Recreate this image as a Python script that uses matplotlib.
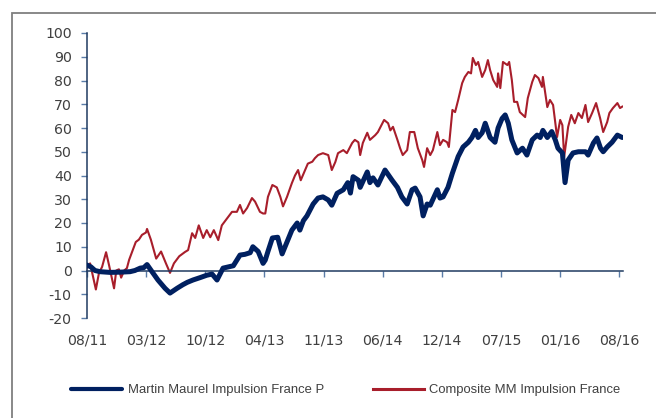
import matplotlib.pyplot as plt
from matplotlib.patches import Rectangle

# months since 08/2011
blue_t = [0.0, 0.45, 0.9, 1.47, 2.6, 3.7, 4.85, 5.4, 6.0, 6.4, 6.77, 7.33, 8.0, 8.8, 9.36,
          10.15, 10.8, 11.3, 11.95, 12.75, 13.5, 14.1, 14.66, 15.34, 16.5, 17.25, 17.8, 18.4,
          18.7, 19.3, 19.85, 20.1, 20.4, 20.9, 21.5, 22.0, 22.55, 23.1, 23.7, 24.0, 24.4, 24.8,
          25.5, 26.05, 26.6, 27.2, 27.6, 28.2, 28.9, 29.4, 29.7, 30.0, 30.6, 30.8, 31.6, 31.9,
          32.25, 32.8, 33.6, 34.4, 35.0, 35.5, 36.1, 36.65, 37.0, 37.55, 37.9, 38.35, 38.7,
          39.5, 39.8, 40.15, 40.7, 41.2, 41.85, 42.4, 43.0, 43.4, 43.8, 44.1, 44.55, 44.9,
          45.45, 46.0, 46.35, 46.8, 47.15, 47.5, 47.9, 48.5, 49.1, 49.6, 50.2, 50.75, 51.1,
          51.4, 51.9, 52.4, 52.8, 53.1, 53.6, 53.9, 54.25, 54.8, 55.4, 56.2, 56.5, 57.1, 57.5,
          57.9, 58.2, 58.65, 59.2, 59.8, 60.35]
blue_v = [2.3, 1.5, 0, -0.5, -0.8, -0.7, -0.5, 0, 1, 1.2, 2.5, -0.5, -4, -7.5, -9.5,
          -7.5, -6, -5, -4, -3, -2, -1.5, -4, 1, 2, 6.5, 6.8, 7.5,
          10, 8, 3, 4.4, 8, 13.7, 14, 7, 12, 17, 20, 17, 21, 23,
          28, 30.5, 31, 29.7, 27.5, 32.5, 34, 37, 32.6, 39.5, 38, 35, 41.5, 37,
          39, 36, 42.3, 38, 35, 31, 28, 34, 34.7, 31, 23, 28, 27.5,
          34, 30.5, 31, 35, 41, 48, 52, 54, 56, 59, 56, 58, 62,
          56, 54, 60, 64, 65.5, 62, 55, 49.5, 51.5, 48.6, 55, 57, 56,
          59, 56, 58.5, 55, 51.5, 49.5, 37, 46.5, 49.5, 50, 50, 48.6, 53.7, 55.8,
          51.5, 50, 52, 54, 57, 56]

red_t = [0.0, 0.35, 0.7, 1.0, 1.35, 1.7, 2.15, 2.5, 3.05, 3.3, 3.6, 3.85, 4.2, 4.5, 4.75,
         5.1, 5.5, 5.85, 6.2, 6.65, 6.77, 7.2, 7.8, 8.35, 8.9, 9.36, 9.8, 10.4, 11.05, 11.4,
         11.85, 12.2, 12.6, 13.1, 13.5, 13.9, 14.3, 14.8, 15.2, 15.8, 16.35, 16.9, 17.25,
         17.6, 18.05, 18.6, 18.95, 19.5, 19.85, 20.1, 20.4, 20.9, 21.4, 21.8, 22.1, 22.55,
         23.1, 23.45, 23.8, 24.1, 24.5, 24.9, 25.4, 25.7, 26.05, 26.6, 27.2, 27.6, 28.0,
         28.3, 28.9, 29.3, 29.9, 30.2, 30.6, 30.8, 31.1, 31.6, 31.9, 32.5, 32.8, 33.3, 33.5,
         33.95, 34.2, 34.5, 35.0, 35.3, 35.6, 36.1, 36.4, 36.9, 37.3, 37.8, 38.0, 38.35,
         38.7, 39.0, 39.5, 39.8, 40.15, 40.6, 40.8, 41.2, 41.5, 41.85, 42.3, 42.6, 43.0,
         43.3, 43.5, 43.85, 44.1, 44.55, 44.9, 45.2, 45.45, 45.8, 46.25, 46.35, 46.6, 46.9,
         47.4, 47.6, 47.9, 48.15, 48.5, 48.8, 49.4, 49.7, 50.2, 50.5, 50.9, 51.3, 51.4,
         51.9, 52.2, 52.55, 53.0, 53.35, 53.6, 53.8, 54.25, 54.6, 55.0, 55.4, 55.8, 56.2,
         56.5, 56.95, 57.4, 57.85, 58.2, 58.65, 58.9, 59.3, 59.8, 60.1, 60.35]
red_v = [1, 3, -3, -8, -1, 1.5, 7.7, 2, -7.5, 0, 0.5, -3, 0, 1, 4.5,
         8, 12, 13, 15, 16, 17.5, 13, 5, 8, 3, -1, 3, 6, 7.8, 8.6,
         15.7, 13.7, 19, 13.7, 17, 14, 17, 12.8, 19, 22, 24.7, 24.7, 27.6,
         24, 26.3, 30.5, 29, 24.7, 24, 24, 31, 36, 35, 31, 27, 31,
         36.8, 40, 42.3, 38, 41.5, 45, 45.8, 47.3, 48.6, 49.4, 48.6, 42.3, 45.7,
         49.4, 50.7, 49.4, 53.7, 55, 54, 48.6, 53.7, 58, 55, 57, 58.3, 62, 63.4,
         62, 59, 60.5, 55, 51.5, 48.6, 50.7, 58.3, 58.3, 51.5, 46.5, 43.6, 51.5,
         48.6, 50.7, 58.3, 52.8, 55, 54, 52, 67.6, 66.7, 71.8, 78.9, 81.5, 83.6,
         83, 89.5, 86.5, 87.8, 81.5, 84.4, 88.6, 84.4, 80.2, 77.3, 83, 76.8, 87.8,
         86.5, 87.8, 80.2, 71, 71, 66.7, 64.6, 72.6, 79.4, 82.3, 81, 77.3, 81.5,
         68.8, 71.8, 69.7, 56.2, 63.4, 61.2, 47.8, 60.5, 65.5, 62, 66.3, 64.2, 69.7,
         62.5, 66.3, 70.5, 64.2, 58.3, 62.5, 66.3, 68.4, 70.5, 68.4, 69]

tick_labels = ["08/11", "03/12", "10/12", "04/13", "11/13", "06/14",
               "12/14", "07/15", "01/16", "08/16"]
y_ticks = list(range(-20, 101, 10))

blue = "#002060"
red = "#A81E2B"
txt = "#404040"

plt.rcParams['font.family'] = ['DejaVu Sans']
plt.rcParams['axes.unicode_minus'] = False

fig = plt.figure(figsize=(6.56, 4.18), dpi=100)
ax = fig.add_axes([87 / 656, 1 - 318 / 418, 535.7 / 656, 285 / 418])

ax.plot(blue_t, blue_v, color=blue, lw=3.6, solid_capstyle='round',
        solid_joinstyle='round', label="Martin Maurel Impulsion France P", zorder=3)
ax.plot(red_t, red_v, color=red, lw=1.5, label="Composite MM Impulsion France", zorder=2)

ax.set_xlim(0, 60.4)
ax.set_ylim(-20, 100)

ax.spines['top'].set_visible(False)
ax.spines['right'].set_visible(False)
ax.spines['bottom'].set_position(('data', 0))
for s in ('left', 'bottom'):
    ax.spines[s].set_color('#1F3A60')
    ax.spines[s].set_linewidth(1.1)

x_ticks = [i * 60 / 9 for i in range(len(tick_labels))]
ax.set_xticks(x_ticks)
ax.set_xticklabels([])
ax.tick_params(axis='x', direction='out', length=4, color='#5A7CA8', width=1)
for xt, lab in zip(x_ticks, tick_labels):
    ax.text(xt, -22 / 285, lab, transform=ax.get_xaxis_transform(),
            ha='center', va='center', fontsize=10.2, color=txt)

ax.set_yticks(y_ticks)
ax.tick_params(axis='y', direction='out', length=4, color='#5A7CA8', width=1,
               labelsize=10.2, labelcolor=txt, pad=7)

leg = fig.legend(loc='center', bbox_to_anchor=(346 / 656, 1 - 390 / 418), ncol=2,
                 frameon=False, labelcolor=txt, handlelength=3.9,
                 handletextpad=0.4, columnspacing=3.8,
                 prop={'family': ['Liberation Sans'], 'size': 9.4})
leg.get_lines()[0].set_linewidth(3.0)
leg.get_lines()[1].set_linewidth(2.2)

fig.add_artist(Rectangle((12 / 656, -0.1), 1.0, 1.1 - 13 / 418, transform=fig.transFigure,
                         fill=False, edgecolor='#7F7F7F', lw=1.3))

fig.savefig("out.png", dpi=100)
